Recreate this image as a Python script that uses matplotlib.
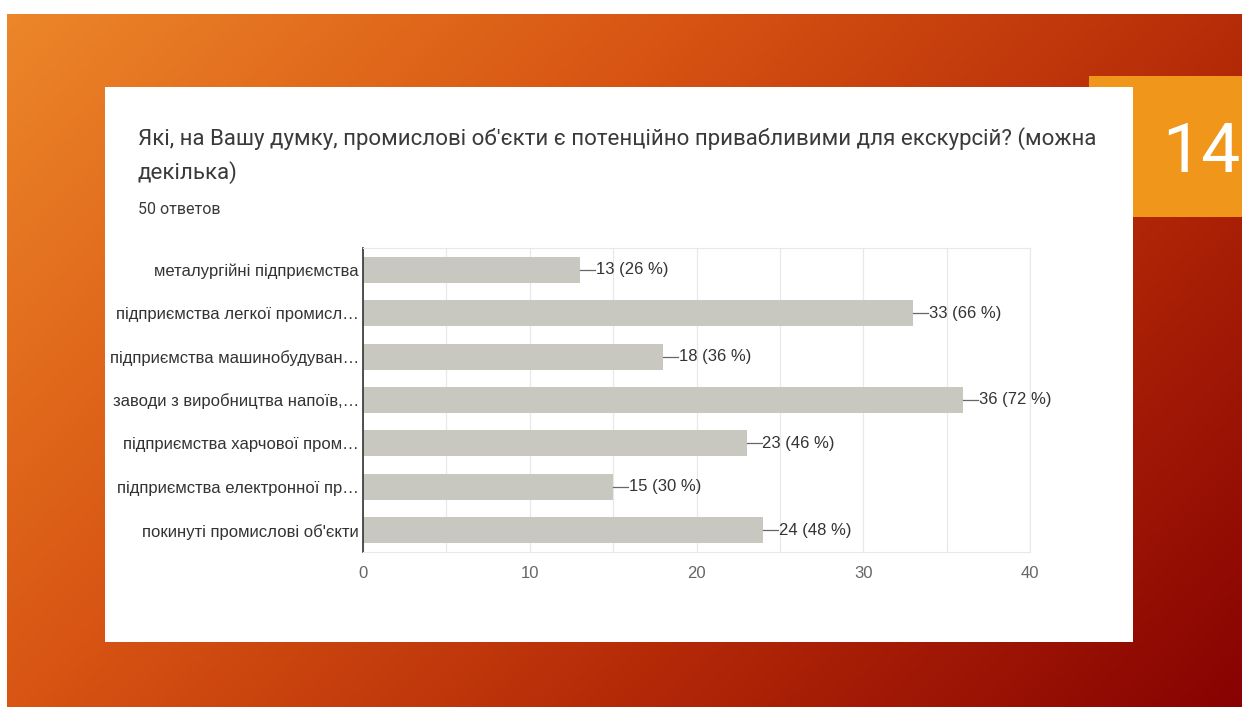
import numpy as np
import matplotlib
matplotlib.use("Agg")
import matplotlib.pyplot as plt
from matplotlib.colors import LinearSegmentedColormap
from matplotlib.patches import Rectangle

title = "Які, на Вашу думку, промислові об'єкти є потенційно привабливими для екскурсій? (можна\nдекілька)"
subtitle = "50 ответов"
slide_number = "14"

categories = [
    "металургійні підприємства",
    "підприємства легкої промисл…",
    "підприємства машинобудуван…",
    "заводи з виробництва напоїв,…",
    "підприємства харчової пром…",
    "підприємства електронної пр…",
    "покинуті промислові об'єкти",
]
counts = [13, 33, 18, 36, 23, 15, 24]
total = 50

W, H = 1242, 707
fig = plt.figure(figsize=(W / 100, H / 100), dpi=100)
fig.patch.set_facecolor("white")

# slide background: diagonal orange -> dark red
bg = fig.add_axes([7 / W, 0, 1 - 7 / W, 1 - 14 / H])
bg.set_axis_off()
yy, xx = np.mgrid[0:1:300j, 0:1:500j]
t = 0.65 * xx + 0.35 * yy
cmap = LinearSegmentedColormap.from_list(
    "slide", [(0, "#ec8629"), (0.35, "#d85513"), (0.66, "#b52b08"), (1, "#880202")]
)
bg.imshow(t, cmap=cmap, aspect="auto", extent=[0, 1, 1, 0], vmin=0, vmax=1)
bg.set_xlim(0, 1)
bg.set_ylim(1, 0)

# orange number tab, then the white card over it
fig.patches.append(Rectangle((1089 / W, 1 - 217 / H), (W - 1089) / W, 141 / H,
                             transform=fig.transFigure, facecolor="#f0961a",
                             edgecolor="none", zorder=1))
fig.patches.append(Rectangle((105 / W, 1 - 642 / H), (1133 - 105) / W, (642 - 87) / H,
                             transform=fig.transFigure, facecolor="white",
                             edgecolor="none", zorder=2))
fig.text(1201 / W, 1 - 153 / H, slide_number, color="white", fontsize=50,
         family="Roboto", fontweight="normal", ha="center", va="center", zorder=3)

fig.text(138 / W, 1 - 127 / H, title, fontsize=16, family="Roboto", color="#3a3a3a",
         ha="left", va="top", linespacing=1.62, zorder=3)
fig.text(138 / W, 1 - 209 / H, subtitle, fontsize=11.5, family="Roboto", color="#3a3a3a",
         ha="left", va="center", zorder=3)

# bar chart
ax = fig.add_axes([363 / W, 1 - 552 / H, (1030 - 363) / W, (552 - 248) / H], zorder=4)
ax.patch.set_alpha(0)
y = np.arange(len(categories))
ax.barh(y, counts, height=0.6, color="#c8c8c0", zorder=2)
for i, v in enumerate(counts):
    ax.plot([v, v + 0.9], [i, i], color="#666666", lw=0.9, zorder=3)
    ax.text(v + 0.95, i, f"{v} ({round(v / total * 100)} %)", va="center", ha="left",
            fontsize=12, family="Liberation Sans", color="#333333")

ax.set_xlim(0, 40)
ax.set_ylim(len(categories) - 0.5, -0.5)
ax.set_xticks(np.arange(0, 41, 10))
ax.set_xticks(np.arange(5, 40, 10), minor=True)
ax.grid(axis="x", which="both", color="#e8e8e8", lw=0.9, zorder=0)
ax.set_yticks(y)
ax.set_yticklabels(categories, fontsize=12, family="Liberation Sans", color="#333333")
ax.tick_params(axis="y", length=0, pad=3)
ax.tick_params(axis="x", which="both", length=0, pad=10, labelsize=12, labelcolor="#666666")
for lab in ax.get_xticklabels():
    lab.set_family("Liberation Sans")
for side in ["top", "right", "bottom"]:
    ax.spines[side].set_color("#e8e8e8")
ax.spines["left"].set_color("#333333")
ax.spines["left"].set_linewidth(1.2)

fig.savefig("out.png", dpi=100)
